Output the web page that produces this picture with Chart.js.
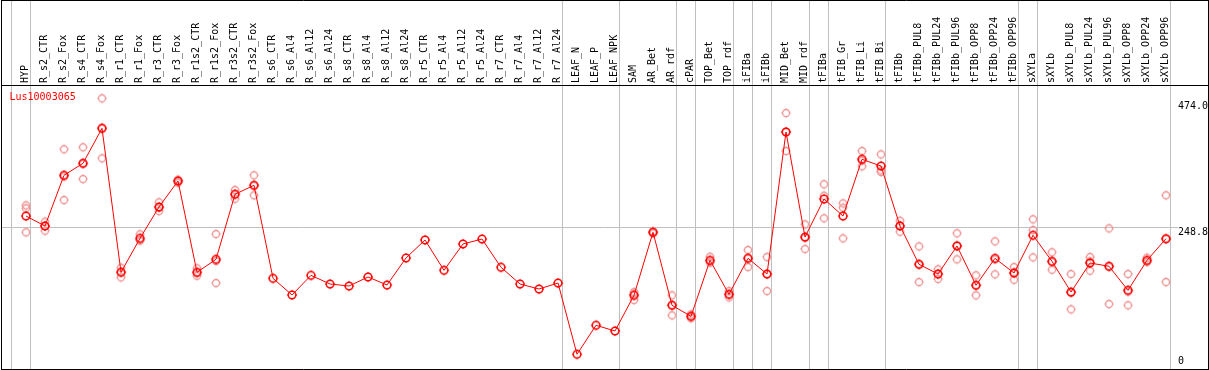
<!DOCTYPE html>
<html><head><meta charset="utf-8">
<script src="https://cdn.jsdelivr.net/npm/chart.js@4.4.1/dist/chart.umd.min.js"></script>
<style>html,body{margin:0;padding:0;background:#fff;}#wrap{width:1209px;height:370px;}canvas{display:block;}</style>
</head><body><div id="wrap"><canvas id="c" width="1209" height="370"></canvas></div>
<script>
const geneName = 'Lus10003065';
const categories = ['HYP','R_s2_CTR','R_s2_Fox','R_s4_CTR','R_s4_Fox','R_r1_CTR','R_r1_Fox','R_r3_CTR','R_r3_Fox','R_r1s2_CTR','R_r1s2_Fox','R_r3s2_CTR','R_r3s2_Fox','R_s6_CTR','R_s6_Al4','R_s6_Al12','R_s6_Al24','R_s8_CTR','R_s8_Al4','R_s8_Al12','R_s8_Al24','R_r5_CTR','R_r5_Al4','R_r5_Al12','R_r5_Al24','R_r7_CTR','R_r7_Al4','R_r7_Al12','R_r7_Al24','LEAF_N','LEAF_P','LEAF_NPK','SAM','AR_Bet','AR_rdf','cPAR','TOP_Bet','TOP_rdf','iFIBa','iFIBb','MID_Bet','MID_rdf','tFIBa','tFIB_Gr','tFIB_Li','tFIB_Bi','tFIBb','tFIBb_PUL8','tFIBb_PUL24','tFIBb_PUL96','tFIBb_OPP8','tFIBb_OPP24','tFIBb_OPP96','sXYLa','sXYLb','sXYLb_PUL8','sXYLb_PUL24','sXYLb_PUL96','sXYLb_OPP8','sXYLb_OPP24','sXYLb_OPP96'];
const meanValues = [269.5,251.6,342.6,364.1,426.9,168.5,229.5,285.7,332.3,168.5,191.8,308.5,324.6,157.7,127.8,163.1,147.5,143.9,160.1,145.7,194.2,226.5,172.1,219.3,228.2,177.5,147.5,138.5,149.3,21.4,73.4,63.2,127.2,240.3,109.3,89.5,190.0,129.0,193.6,165.4,420.3,231.8,300.0,269.5,371.3,359.2,251.6,182.9,165.4,215.7,145.2,193.6,167.2,234.9,188.2,133.1,185.2,179.3,136.2,190.0,228.8];
const rep1 = [288.7,259.3,389.2,392.8,480.7,176.7,236.7,294.1,332.9,175.7,237.2,316.2,342.6,null,null,null,null,null,null,null,null,null,null,null,null,null,null,null,null,null,null,null,133.1,241.3,127.2,93.1,196.5,134.9,208.5,195.9,454.3,254.6,326.4,292.3,386.2,380.2,261.1,215.1,173.9,238.5,163.1,224.1,178.0,263.6,204.4,165.4,195.9,247.4,165.4,194.7,306.7];
const rep2 = [283.3,251.6,340.4,363.6,426.9,169.3,225.3,284.5,334.7,167.4,188.9,308.7,324.5,null,null,null,null,null,null,null,null,null,null,null,null,null,null,null,null,null,null,null,129.7,241.1,109.4,89.4,187.8,128.5,194.3,165.4,420.4,230.5,305.9,284.4,369.0,351.5,252.4,182.5,165.8,216.8,145.3,191.8,168.4,244.4,187.0,131.8,188.3,178.9,133.9,188.3,228.6];
const rep3 = [240.3,243.1,298.2,335.9,373.1,159.5,226.5,278.5,329.3,162.4,149.3,300.6,306.7,null,null,null,null,null,null,null,null,null,null,null,null,null,null,null,null,null,null,null,118.8,238.5,91.3,86.0,185.7,123.6,178.0,134.9,386.2,210.3,265.4,229.5,358.7,348.5,241.3,151.1,156.5,191.8,127.2,164.9,155.2,195.4,173.2,102.1,171.4,111.6,109.3,187.0,151.1];
const groupEnds = [-1,0,28,31,34,35,37,38,39,41,42,45,52,53,60];
const yTickValues = [248.8, 474.0];
const yZeroTick = [0];

const MONO = 'DejaVu Sans Mono';
function makeGlyph(color, lw, r) {
  const c = document.createElement('canvas');
  c.width = 12; c.height = 12;
  const g = c.getContext('2d');
  g.strokeStyle = color; g.lineWidth = lw;
  g.beginPath(); g.arc(6, 6, r, 0, Math.PI * 2); g.stroke();
  g.lineWidth = 1;
  g.beginPath();
  g.moveTo(6, 6 - r - 1.3); g.lineTo(6, 6 - r);
  g.moveTo(6, 6 + r); g.lineTo(6, 6 + r + 1.3);
  g.moveTo(6 - r - 1.3, 6); g.lineTo(6 - r, 6);
  g.moveTo(6 + r, 6); g.lineTo(6 + r + 1.3, 6);
  g.stroke();
  return c;
}
const mainGlyph = makeGlyph('#ff0000', 1.5, 3.8);
const paleGlyph = makeGlyph('rgb(240,150,150)', 1.3, 3.5);

const toPts = arr => arr.map((v, i) => ({x: i, y: v}));
const noPadV = s => { s.width = 0; s.paddingTop = 0; s.paddingBottom = 0; };

const framePlugin = {
  id: 'frame',
  beforeDatasetsDraw(chart) {
    const {ctx, chartArea: a, scales} = chart;
    ctx.save();
    ctx.strokeStyle = '#c0c0c0'; ctx.lineWidth = 1;
    ctx.beginPath();
    groupEnds.forEach(g => {
      const px = Math.floor(scales.x.getPixelForValue(g + 0.22)) + 0.5;
      ctx.moveTo(px, 0); ctx.lineTo(px, a.bottom);
    });
    ctx.stroke();
    ctx.restore();
  },
  afterDraw(chart) {
    const {ctx, chartArea: a} = chart;
    ctx.save();
    ctx.strokeStyle = '#000'; ctx.lineWidth = 1;
    ctx.beginPath();
    ctx.moveTo(a.left + 0.5, 0.5); ctx.lineTo(a.right + 0.5, 0.5);
    ctx.moveTo(a.left + 0.5, a.top + 0.5); ctx.lineTo(a.right + 0.5, a.top + 0.5);
    ctx.moveTo(a.left + 0.5, a.bottom + 0.5); ctx.lineTo(a.right + 0.5, a.bottom + 0.5);
    ctx.moveTo(a.left + 0.5, 0); ctx.lineTo(a.left + 0.5, a.bottom + 1);
    ctx.moveTo(a.right + 0.5, 0); ctx.lineTo(a.right + 0.5, a.bottom + 1);
    ctx.stroke();
    ctx.fillStyle = '#ff0000';
    ctx.font = '10px "' + MONO + '"';
    ctx.textBaseline = 'middle';
    ctx.textAlign = 'left';
    ctx.fillText(chart.data.datasets[0].label, a.left + 8.5, a.top + 12);
    ctx.restore();
  }
};

new Chart(document.getElementById('c'), {
  type: 'line',
  data: {
    datasets: [
      {label: geneName, data: toPts(meanValues), borderColor: '#ff0000', borderWidth: 1, pointStyle: mainGlyph, tension: 0, fill: false, yAxisID: 'y'},
      {label: 'rep1', data: toPts(rep1), showLine: false, pointStyle: paleGlyph, yAxisID: 'y'},
      {label: 'rep2', data: toPts(rep2), showLine: false, pointStyle: paleGlyph, yAxisID: 'y'},
      {label: 'rep3', data: toPts(rep3), showLine: false, pointStyle: paleGlyph, yAxisID: 'y'}
    ]
  },
  options: {
    responsive: false, animation: false, devicePixelRatio: 1,
    layout: {padding: {left: 1, right: 1, top: 0, bottom: 1}, autoPadding: false},
    plugins: {legend: {display: false}, tooltip: {enabled: false}},
    scales: {
      x: {
        type: 'linear', position: 'top', min: -1.3158, max: 62.2105,
        afterBuildTicks: s => { s.ticks = categories.map((c, i) => ({value: i})); },
        afterFit: s => { s.height = 85; s.paddingLeft = 0; s.paddingRight = 0; },
        ticks: {autoSkip: false, maxRotation: 90, minRotation: 90, padding: 2, labelOffset: 11, color: '#000',
          font: {family: MONO, size: 10}, callback: v => categories[v] || ''},
        grid: {display: false, drawTicks: false}, border: {display: false}
      },
      y: {
        type: 'linear', position: 'right', min: -5, max: 504.6,
        afterBuildTicks: s => { s.ticks = yTickValues.map(v => ({value: v})); },
        afterFit: noPadV,
        ticks: {mirror: true, crossAlign: 'far', padding: 0, labelOffset: 4.7, color: '#000',
          font: {family: MONO, size: 10}, callback: v => v.toFixed(1),
          showLabelBackdrop: true, backdropColor: '#fff', backdropPadding: {top: 1, bottom: 0, left: 0, right: 0}},
        grid: {drawTicks: false, lineWidth: 1, color: ctx => (ctx.tick && ctx.tick.value === 248.8) ? '#c0c0c0' : 'rgba(0,0,0,0)'},
        border: {display: false}
      },
      y0: {
        type: 'linear', position: 'right', min: -5, max: 504.6,
        afterBuildTicks: s => { s.ticks = yZeroTick.map(v => ({value: v})); },
        afterFit: noPadV,
        ticks: {mirror: true, crossAlign: 'far', padding: -24, labelOffset: -4.5, color: '#000',
          font: {family: MONO, size: 10}, callback: v => String(v)},
        grid: {display: false, drawTicks: false}, border: {display: false}
      }
    }
  },
  plugins: [framePlugin]
});
</script>
</body></html>
